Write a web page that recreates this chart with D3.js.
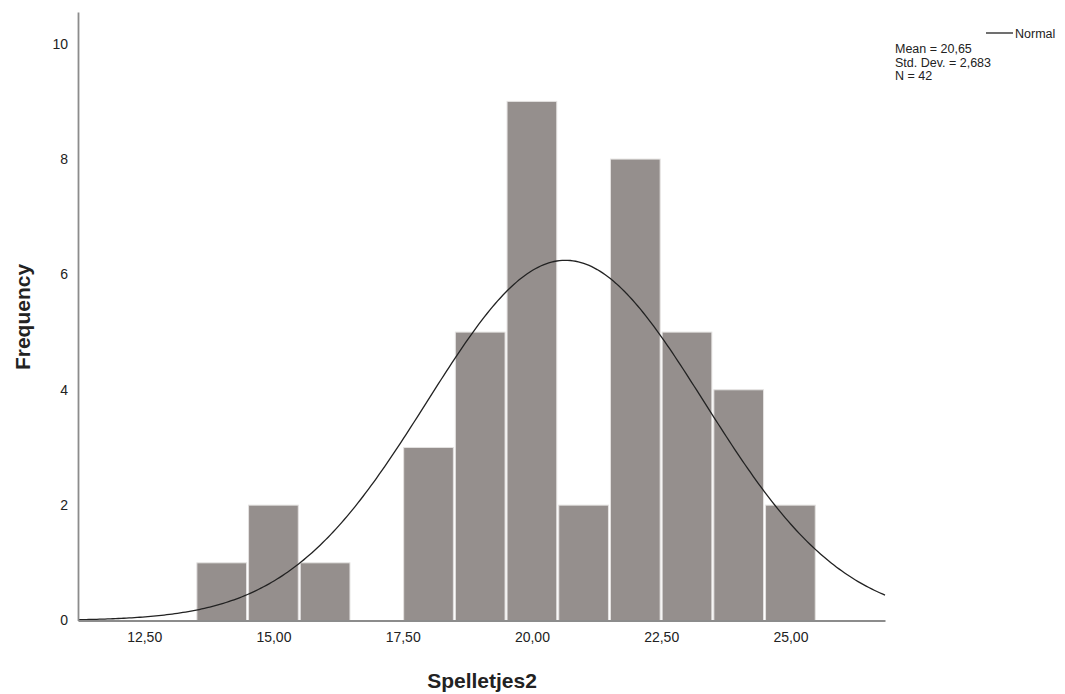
<!DOCTYPE html>
<html>
<head>
<meta charset="utf-8">
<script src="https://cdn.jsdelivr.net/npm/d3@7"></script>
<style>
	body { margin: 0; background: #fff; }
	text { font-family: "Liberation Sans", Arial, sans-serif; fill: #222; }
</style>
</head>
<body>
<svg id="chart" width="1065" height="694"></svg>
<script>
// Histogram bins (lower edges, width 1) and their counts
const binStarts = [13.5, 14.5, 15.5, 16.5, 17.5, 18.5, 19.5, 20.5, 21.5, 22.5, 23.5, 24.5]
const counts = [1, 2, 1, 0, 3, 5, 9, 2, 8, 5, 4, 2]
const binWidth = 1

// Axis ticks
const xTicks = [12.5, 15, 17.5, 20, 22.5, 25]
const yTicks = [0, 2, 4, 6, 8, 10]
const xDomain = [11.22, 26.83]
const yDomain = [0, 10.55]

// Normal fit stats
const mean = 20.65
const stdDev = 2.683
const n = 42
const legendLines = ['Mean = 20,65', 'Std. Dev. = 2,683', 'N = 42']

const svg = d3.select('#chart')
const margin = { top: 12, right: 180, bottom: 73.5, left: 78 }
const width = 1065, height = 694

const x = d3.scaleLinear()
	.domain(xDomain)
	.range([margin.left, width - margin.right])

const y = d3.scaleLinear()
	.domain(yDomain)
	.range([height - margin.bottom, margin.top])

const commaFmt = d => d3.format('.2f')(d).replace('.', ',')

// Bars
svg.append('g')
	.selectAll('rect')
	.data(binStarts.map((b, i) => ({ lo: b, hi: b + binWidth, c: counts[i] })).filter(d => d.c > 0))
	.join('rect')
	.attr('x', d => x(d.lo) + 1)
	.attr('width', d => x(d.hi) - x(d.lo) - 2)
	.attr('y', d => y(d.c))
	.attr('height', d => y(0) - y(d.c))
	.attr('fill', '#958f8d')
	.attr('stroke', '#e4e2e1')
	.attr('stroke-width', 1)

// Normal curve
const curve = d3.range(0, 301).map(i => {
	let v = xDomain[0] + (xDomain[1] - xDomain[0]) * i / 300
	let z = (v - mean) / stdDev
	return [v, n * binWidth * Math.exp(-z * z / 2) / (stdDev * Math.sqrt(2 * Math.PI))]
})
svg.append('path')
	.datum(curve)
	.attr('fill', 'none')
	.attr('stroke', '#222')
	.attr('stroke-width', 1.3)
	.attr('d', d3.line().x(d => x(d[0])).y(d => y(d[1])))

// Axes (no tick marks, grey domain line)
const xAxis = svg.append('g')
	.attr('transform', `translate(0, ${y(0)})`)
	.call(d3.axisBottom(x).tickValues(xTicks).tickFormat(commaFmt).tickSize(0).tickPadding(12))
const yAxis = svg.append('g')
	.attr('transform', `translate(${margin.left}, 0)`)
	.call(d3.axisLeft(y).tickValues(yTicks).tickSize(0).tickPadding(10))

;[xAxis, yAxis].forEach(a => {
	a.select('.domain').attr('stroke', '#8c8c8c').attr('stroke-width', 1.8)
	a.selectAll('text')
		.attr('font-family', '"Liberation Sans", Arial, sans-serif')
		.attr('font-size', 14)
		.attr('fill', '#222')
})

// Axis titles
svg.append('text')
	.attr('x', 482)
	.attr('y', 688)
	.attr('text-anchor', 'middle')
	.attr('font-size', 21)
	.attr('font-weight', 'bold')
	.text('Spelletjes2')

svg.append('text')
	.attr('transform', 'translate(30, 317) rotate(-90)')
	.attr('text-anchor', 'middle')
	.attr('font-size', 21)
	.attr('font-weight', 'bold')
	.text('Frequency')

// Legend
const legend = svg.append('g')
legend.append('line')
	.attr('x1', 986).attr('x2', 1013)
	.attr('y1', 33).attr('y2', 33)
	.attr('stroke', '#222')
	.attr('stroke-width', 1.3)
legend.append('text')
	.attr('x', 1015)
	.attr('y', 37.5)
	.attr('font-size', 12.5)
	.text('Normal')
legend.selectAll('text.stat')
	.data(legendLines)
	.join('text')
	.attr('class', 'stat')
	.attr('x', 895)
	.attr('y', (d, i) => 53 + i * 13.5)
	.attr('font-size', 12.5)
	.text(d => d)
</script>
</body>
</html>
